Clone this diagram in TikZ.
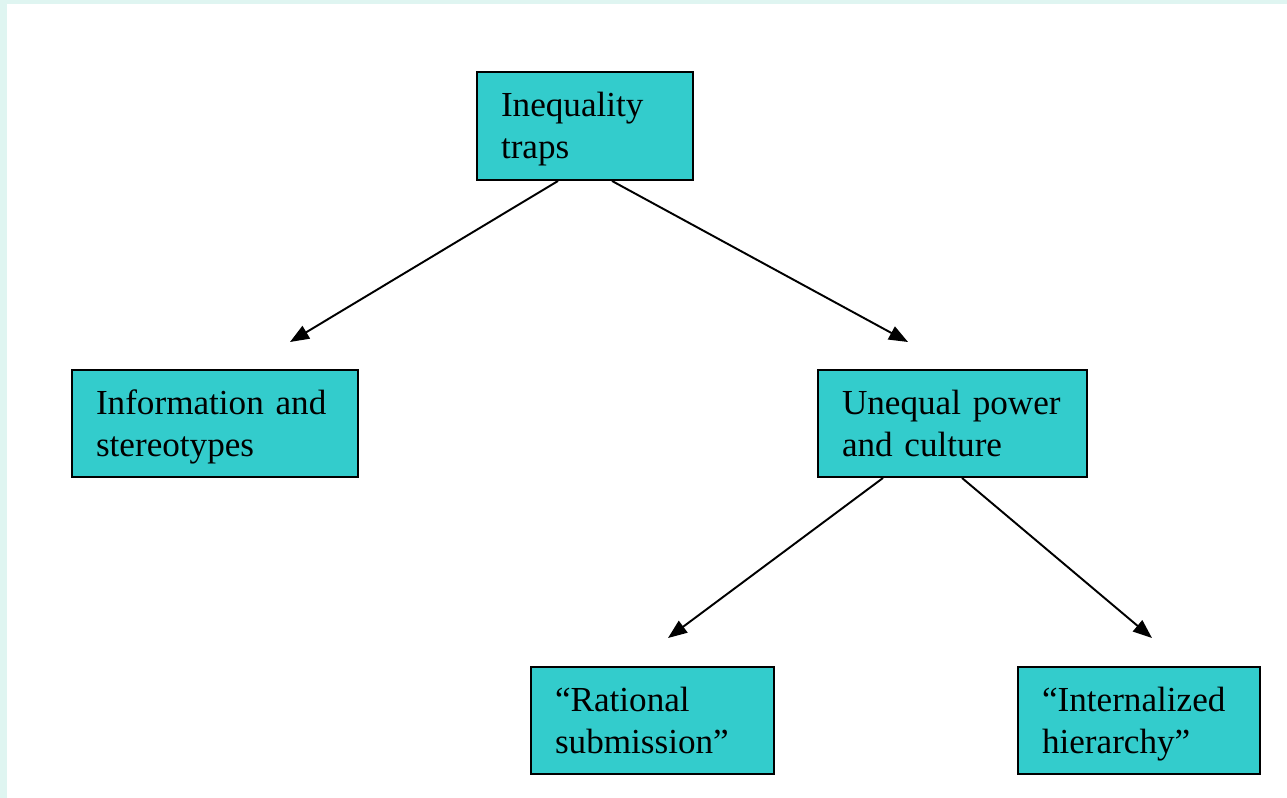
\documentclass[tikz,border=0pt]{standalone}
\usepackage{fontspec}
\setmainfont{Liberation Serif}
\usetikzlibrary{arrows.meta}

\definecolor{boxfill}{HTML}{33CCCC}
\definecolor{framecol}{HTML}{DFF5F1}
% same height and depth for every line of a box
\newcommand{\tstrut}{\rule[-4.8pt]{0pt}{22.8pt}}

\tikzset{
	trapbox/.style={rectangle, draw, line width=1.1pt, fill=boxfill, align=left,
		inner xsep=0.48cm, inner ysep=0pt, font=\fontsize{20}{24}\selectfont},
}

\begin{document}
\begin{tikzpicture}[>={Triangle[length=3.8mm,width=2.9mm]}, line width=1.1pt]
		% background and frame
		\fill [framecol] (0, 0) rectangle (25.74, -15.96);
		\fill [white] (0.14, -0.08) rectangle (25.74, -15.96);
		\useasboundingbox (0, 0) rectangle (25.74, -15.96);
		\draw (11.70, -2.52) node [trapbox, minimum width=4.32cm, minimum height=2.16cm, text width=3.36cm] (traps) {\tstrut Inequality\\\tstrut traps};
		\draw (4.30, -8.47) node [trapbox, minimum width=5.72cm, minimum height=2.14cm, text width=4.76cm] (info) {\tstrut Information and\\\tstrut stereotypes};
		\draw (19.05, -8.47) node [trapbox, minimum width=5.38cm, minimum height=2.14cm, text width=4.42cm] (power) {\tstrut Unequal power\\\tstrut and culture};
		\draw (13.05, -14.41) node [trapbox, minimum width=4.86cm, minimum height=2.14cm, text width=3.90cm] (rational) {\tstrut ``Rational\\\tstrut submission''};
		\draw (22.78, -14.41) node [trapbox, minimum width=4.84cm, minimum height=2.14cm, text width=3.88cm] (internal) {\tstrut ``Internalized\\\tstrut hierarchy''};
		% arrow tips stop short of the boxes
		\coordinate (infotip) at (5.80, -6.84);
		\coordinate (powertip) at (18.16, -6.84);
		\coordinate (rationaltip) at (13.36, -12.76);
		\coordinate (internaltip) at (23.04, -12.76);
		\path [->] ([xshift=-0.54cm]traps.south) edge (infotip);
		\path [->] ([xshift=0.54cm]traps.south) edge (powertip);
		\path [->] ([xshift=-1.39cm]power.south) edge (rationaltip);
		\path [->] ([xshift=0.19cm]power.south) edge (internaltip);
	\end{tikzpicture}
\end{document}
